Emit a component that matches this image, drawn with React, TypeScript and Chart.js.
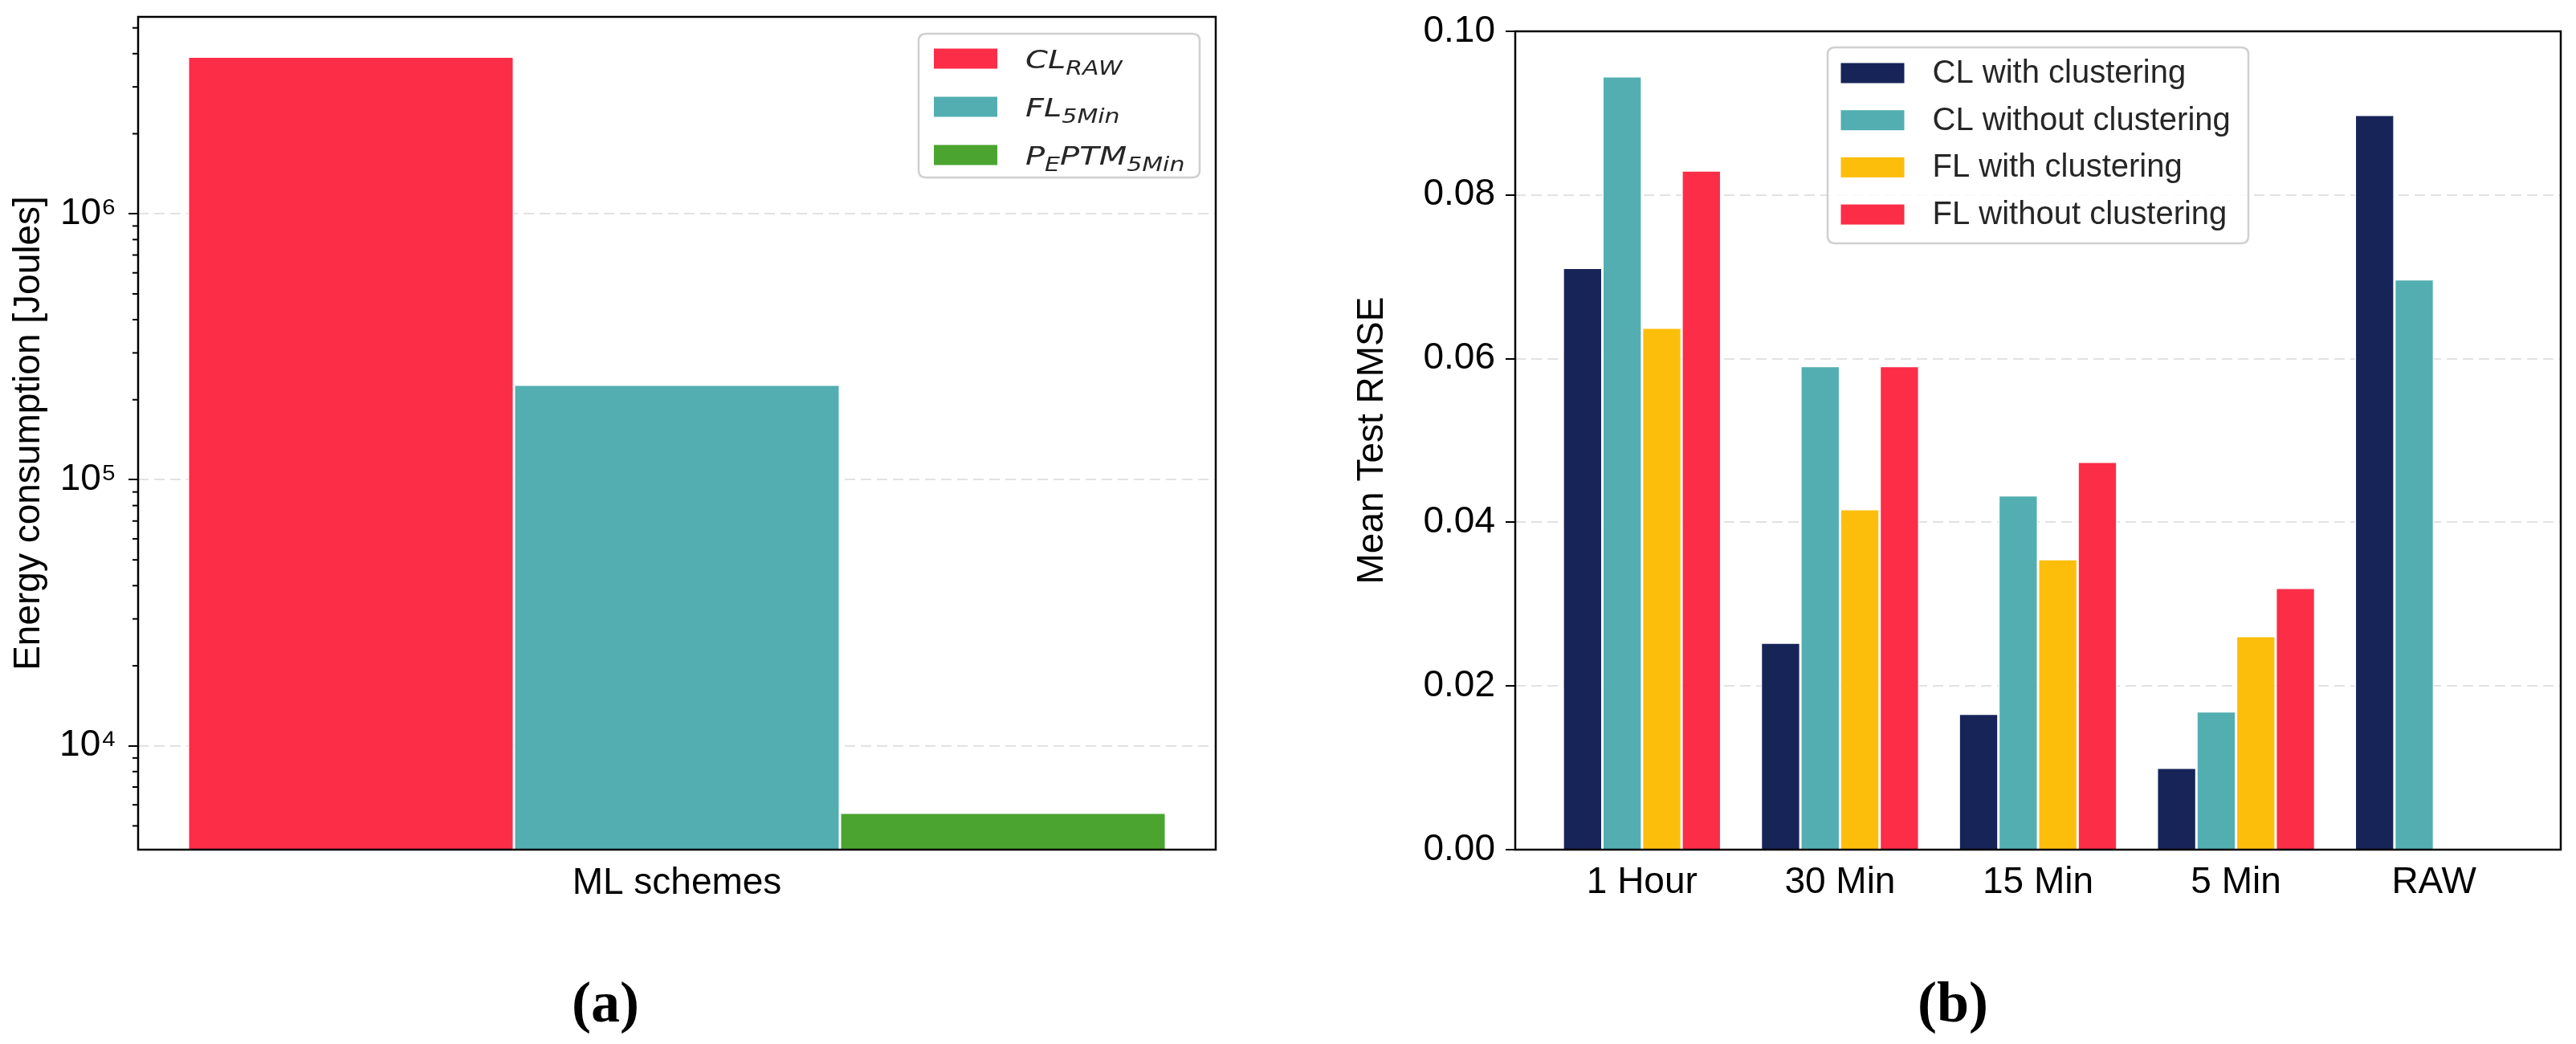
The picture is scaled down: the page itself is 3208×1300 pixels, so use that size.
import React, { useEffect, useRef } from 'react';
import { Chart, registerables } from 'chart.js';

Chart.register(...registerables);

// ---------- Data: panel (a) ----------
const leftCategory = ['ML schemes'];
const leftLabels = ['CL_{RAW}', 'FL_{5Min}', 'P_{E}PTM_{5Min}'];
const leftValues = [3.9e6, 2.28e5, 5.6e3];
const leftColors = ['#fc2d47', '#52aeb1', '#4ba42f'];
const leftYMin = 4.07e3;
const leftYMax = 5.5e6;

// ---------- Data: panel (b) ----------
const rightCategories = ['1 Hour', '30 Min', '15 Min', '5 Min', 'RAW'];
const rightSeriesNames = ['CL with clustering', 'CL without clustering', 'FL with clustering', 'FL without clustering'];
const clWith = [0.0711, 0.0253, 0.0166, 0.0100, 0.0898];
const clWithout = [0.0945, 0.0591, 0.0433, 0.0169, 0.0697];
const flWith = [0.0638, 0.0416, 0.0355, 0.0261, null];
const flWithout = [0.0830, 0.0591, 0.0474, 0.0320, null];
const rightColors = ['#172458', '#52aeb1', '#fdbe0b', '#fc2d47'];
const rightYTicks = [0, 0.02, 0.04, 0.06, 0.08, 0.1];

const SANS = '"Liberation Sans", Arial, sans-serif';
const SUP: Record<string, string> = { '0': '⁰', '1': '¹', '2': '²', '3': '³', '4': '⁴', '5': '⁵', '6': '⁶', '7': '⁷', '8': '⁸', '9': '⁹', '-': '⁻' };

function zeroPad(scale: any) {
  scale.paddingTop = 0;
  scale.paddingBottom = 0;
  scale.paddingLeft = 0;
  scale.paddingRight = 0;
}

const framePlugin = {
  id: 'frame',
  afterDatasetsDraw(chart: any) {
    const { ctx, chartArea: a } = chart;
    ctx.save();
    ctx.strokeStyle = '#000';
    ctx.lineWidth = 2.5;
    ctx.strokeRect(a.left, a.top, a.right - a.left, a.bottom - a.top);
    ctx.restore();
  },
};

const minorTickPlugin = {
  id: 'minorTicks',
  afterDraw(chart: any) {
    const s = chart.scales.y;
    const { ctx, chartArea: a } = chart;
    ctx.save();
    ctx.strokeStyle = '#000';
    ctx.lineWidth = 2;
    for (const t of s.ticks) {
      if (t.major) continue;
      const y = s.getPixelForValue(t.value);
      ctx.beginPath();
      ctx.moveTo(a.left - 7, y);
      ctx.lineTo(a.left, y);
      ctx.stroke();
    }
    ctx.restore();
  },
};

function roundRect(ctx: CanvasRenderingContext2D, x: number, y: number, w: number, h: number, r: number) {
  ctx.beginPath();
  ctx.moveTo(x + r, y);
  ctx.lineTo(x + w - r, y);
  ctx.quadraticCurveTo(x + w, y, x + w, y + r);
  ctx.lineTo(x + w, y + h - r);
  ctx.quadraticCurveTo(x + w, y + h, x + w - r, y + h);
  ctx.lineTo(x + r, y + h);
  ctx.quadraticCurveTo(x, y + h, x, y + h - r);
  ctx.lineTo(x, y + r);
  ctx.quadraticCurveTo(x, y, x + r, y);
  ctx.closePath();
}

function parseRich(text: string) {
  const parts: { t: string; sub: boolean }[] = [];
  const re = /_\{([^}]*)\}|([^_]+)/g;
  let m: RegExpExecArray | null;
  while ((m = re.exec(text))) {
    if (m[1] !== undefined) parts.push({ t: m[1], sub: true });
    else parts.push({ t: m[2], sub: false });
  }
  return parts;
}

function drawLegendBox(ctx: CanvasRenderingContext2D, x: number, y: number, w: number, h: number) {
  ctx.save();
  roundRect(ctx, x, y, w, h, 9);
  ctx.fillStyle = 'rgba(255,255,255,0.85)';
  ctx.fill();
  ctx.strokeStyle = '#cfcfcf';
  ctx.lineWidth = 2.5;
  ctx.stroke();
  ctx.restore();
}

const leftLegendPlugin = {
  id: 'leftLegend',
  afterDraw(chart: any) {
    const { ctx, chartArea: a } = chart;
    const w = 350, h = 179;
    const x = a.right - 20 - w;
    const y = a.top + 21;
    drawLegendBox(ctx, x, y, w, h);
    const sx = 1.25;
    leftLabels.forEach((lab, i) => {
      const cy = y + 31 + i * 60;
      ctx.save();
      ctx.fillStyle = leftColors[i];
      ctx.fillRect(x + 19, cy - 12.5, 79, 25);
      ctx.fillStyle = '#262626';
      ctx.textBaseline = 'alphabetic';
      ctx.textAlign = 'left';
      let cx = x + 133;
      const base = cy + 12;
      for (const p of parseRich(lab)) {
        ctx.font = `italic ${p.sub ? 24 : 32}px "DejaVu Sans", sans-serif`;
        const tw = ctx.measureText(p.t).width * sx;
        ctx.save();
        ctx.translate(cx, base + (p.sub ? 7.5 : 0));
        ctx.scale(sx, 1);
        ctx.fillText(p.t, 0, 0);
        ctx.restore();
        cx += tw;
      }
      ctx.restore();
    });
  },
};

const rightLegendPlugin = {
  id: 'rightLegend',
  afterDraw(chart: any) {
    const { ctx, chartArea: a } = chart;
    const w = 524, h = 244;
    const x = (a.left + a.right) / 2 - w / 2;
    const y = a.top + 20;
    drawLegendBox(ctx, x, y, w, h);
    rightSeriesNames.forEach((name, i) => {
      const cy = y + 32 + i * 58.7;
      ctx.save();
      ctx.fillStyle = rightColors[i];
      ctx.fillRect(x + 16.5, cy - 12.5, 79, 25);
      ctx.fillStyle = '#262626';
      ctx.font = `40px ${SANS}`;
      ctx.textBaseline = 'middle';
      ctx.textAlign = 'left';
      ctx.fillText(name, x + 130.5, cy + 1);
      ctx.restore();
    });
  },
};

function LeftChart() {
  const ref = useRef<HTMLCanvasElement>(null);
  useEffect(() => {
    const chart = new Chart(ref.current as HTMLCanvasElement, {
      type: 'bar',
      data: {
        labels: leftCategory,
        datasets: leftLabels.map((lab, i) => ({
          label: lab,
          data: [leftValues[i]],
          backgroundColor: leftColors[i],
          borderColor: '#ffffff',
          borderWidth: 1.5,
          categoryPercentage: 0.9076,
          barPercentage: 1,
        })),
      },
      options: {
        animation: false,
        responsive: false,
        devicePixelRatio: 1,
        layout: { padding: { left: 0, top: 21, right: 86, bottom: 0 } },
        plugins: { legend: { display: false }, tooltip: { enabled: false } },
        scales: {
          x: {
            type: 'category',
            grid: { display: false, drawTicks: false },
            border: { display: false },
            ticks: { display: false },
            title: { display: true, text: 'ML schemes', color: '#000', font: { family: SANS, size: 46 }, padding: { top: 0, bottom: 172 } },
            afterFit(scale: any) { scale.height = 242; zeroPad(scale); },
          },
          y: {
            type: 'logarithmic',
            min: leftYMin,
            max: leftYMax,
            afterBuildTicks(scale: any) {
              const ticks: any[] = [];
              for (let e = 3; e <= 7; e++) {
                for (let m = 1; m <= 9; m++) {
                  const v = m * Math.pow(10, e);
                  if (v >= leftYMin && v <= leftYMax) ticks.push({ value: v, major: m === 1 });
                }
              }
              scale.ticks = ticks;
            },
            ticks: {
              color: '#000',
              font: { family: SANS, size: 46 },
              padding: 15,
              autoSkip: false,
              callback(value: any) {
                const e = Math.log10(Number(value));
                if (Math.abs(e - Math.round(e)) > 1e-9) return '';
                return '10' + String(Math.round(e)).split('').map((c) => SUP[c]).join('');
              },
            },
            grid: {
              color: (c: any) => (c.tick && c.tick.major ? '#e2e2e2' : 'rgba(0,0,0,0)'),
              lineWidth: 2,
              tickColor: (c: any) => (c.tick && c.tick.major ? '#000' : 'rgba(0,0,0,0)'),
              tickLength: 12,
              tickWidth: 2,
            },
            border: { display: false, dash: [13, 7] },
            title: { display: true, text: 'Energy consumption [Joules]', color: '#000', font: { family: SANS, size: 46 }, padding: { top: 9, bottom: 0 } },
            afterFit(scale: any) { scale.width = 172; zeroPad(scale); },
          },
        },
      } as any,
      plugins: [framePlugin, minorTickPlugin, leftLegendPlugin],
    });
    return () => chart.destroy();
  }, []);
  return <canvas ref={ref} width={1600} height={1300} style={{ position: 'absolute', left: 0, top: 0, width: 1600, height: 1300 }} />;
}

function RightChart() {
  const ref = useRef<HTMLCanvasElement>(null);
  useEffect(() => {
    const series = [clWith, clWithout, flWith, flWithout];
    const chart = new Chart(ref.current as HTMLCanvasElement, {
      type: 'bar',
      data: {
        datasets: rightSeriesNames.map((name, i) => ({
          label: name,
          data: series[i].map((v, j) => ({ x: j, y: v })),
          backgroundColor: rightColors[i],
          borderColor: '#ffffff',
          borderWidth: 1.5,
          categoryPercentage: 0.8,
          barPercentage: 1,
        })),
      },
      options: {
        animation: false,
        responsive: false,
        devicePixelRatio: 1,
        layout: { padding: { left: 0, top: 39, right: 19, bottom: 0 } },
        plugins: { legend: { display: false }, tooltip: { enabled: false } },
        scales: {
          x: {
            type: 'linear',
            offset: false,
            min: -0.64,
            max: 4.64,
            afterBuildTicks(scale: any) {
              scale.ticks = rightCategories.map((_, i) => ({ value: i }));
            },
            grid: { display: false, drawTicks: false },
            border: { display: false },
            ticks: {
              color: '#000',
              font: { family: SANS, size: 46 },
              padding: 14,
              autoSkip: false,
              maxRotation: 0,
              callback(value: any) { return rightCategories[Math.round(Number(value))] ?? ''; },
            },
            afterFit(scale: any) { scale.height = 242; zeroPad(scale); },
          },
          y: {
            type: 'linear',
            min: 0,
            max: 0.1,
            afterBuildTicks(scale: any) {
              scale.ticks = rightYTicks.map((v) => ({ value: v }));
            },
            ticks: {
              color: '#000',
              font: { family: SANS, size: 46 },
              padding: 13,
              autoSkip: false,
              callback(value: any) { return Number(value).toFixed(2); },
            },
            grid: {
              color: '#e2e2e2',
              lineWidth: 2,
              tickColor: '#000',
              tickLength: 12,
              tickWidth: 2,
            },
            border: { display: false, dash: [13, 7] },
            title: { display: true, text: 'Mean Test RMSE', color: '#000', font: { family: SANS, size: 46 }, padding: { top: 82, bottom: 0 } },
            afterFit(scale: any) { scale.width = 287; zeroPad(scale); },
          },
        },
      } as any,
      plugins: [framePlugin, rightLegendPlugin],
    });
    return () => chart.destroy();
  }, []);
  return <canvas ref={ref} width={1608} height={1300} style={{ position: 'absolute', left: 1600, top: 0, width: 1608, height: 1300 }} />;
}

const panelLabelStyle: React.CSSProperties = {
  position: 'absolute',
  top: 1248,
  transform: 'translate(-50%, -50%)',
  fontFamily: '"Liberation Serif", "Times New Roman", serif',
  fontWeight: 'bold',
  fontSize: 72,
  lineHeight: 1,
  color: '#000',
  whiteSpace: 'nowrap',
};

export default function App() {
  return (
    <div style={{ position: 'fixed', left: 0, top: 0, width: 3208, height: 1300, background: '#fff', overflow: 'hidden' }}>
      <LeftChart />
      <RightChart />
      <div style={{ ...panelLabelStyle, left: 754 }}>(a)</div>
      <div style={{ ...panelLabelStyle, left: 2432 }}>(b)</div>
    </div>
  );
}
